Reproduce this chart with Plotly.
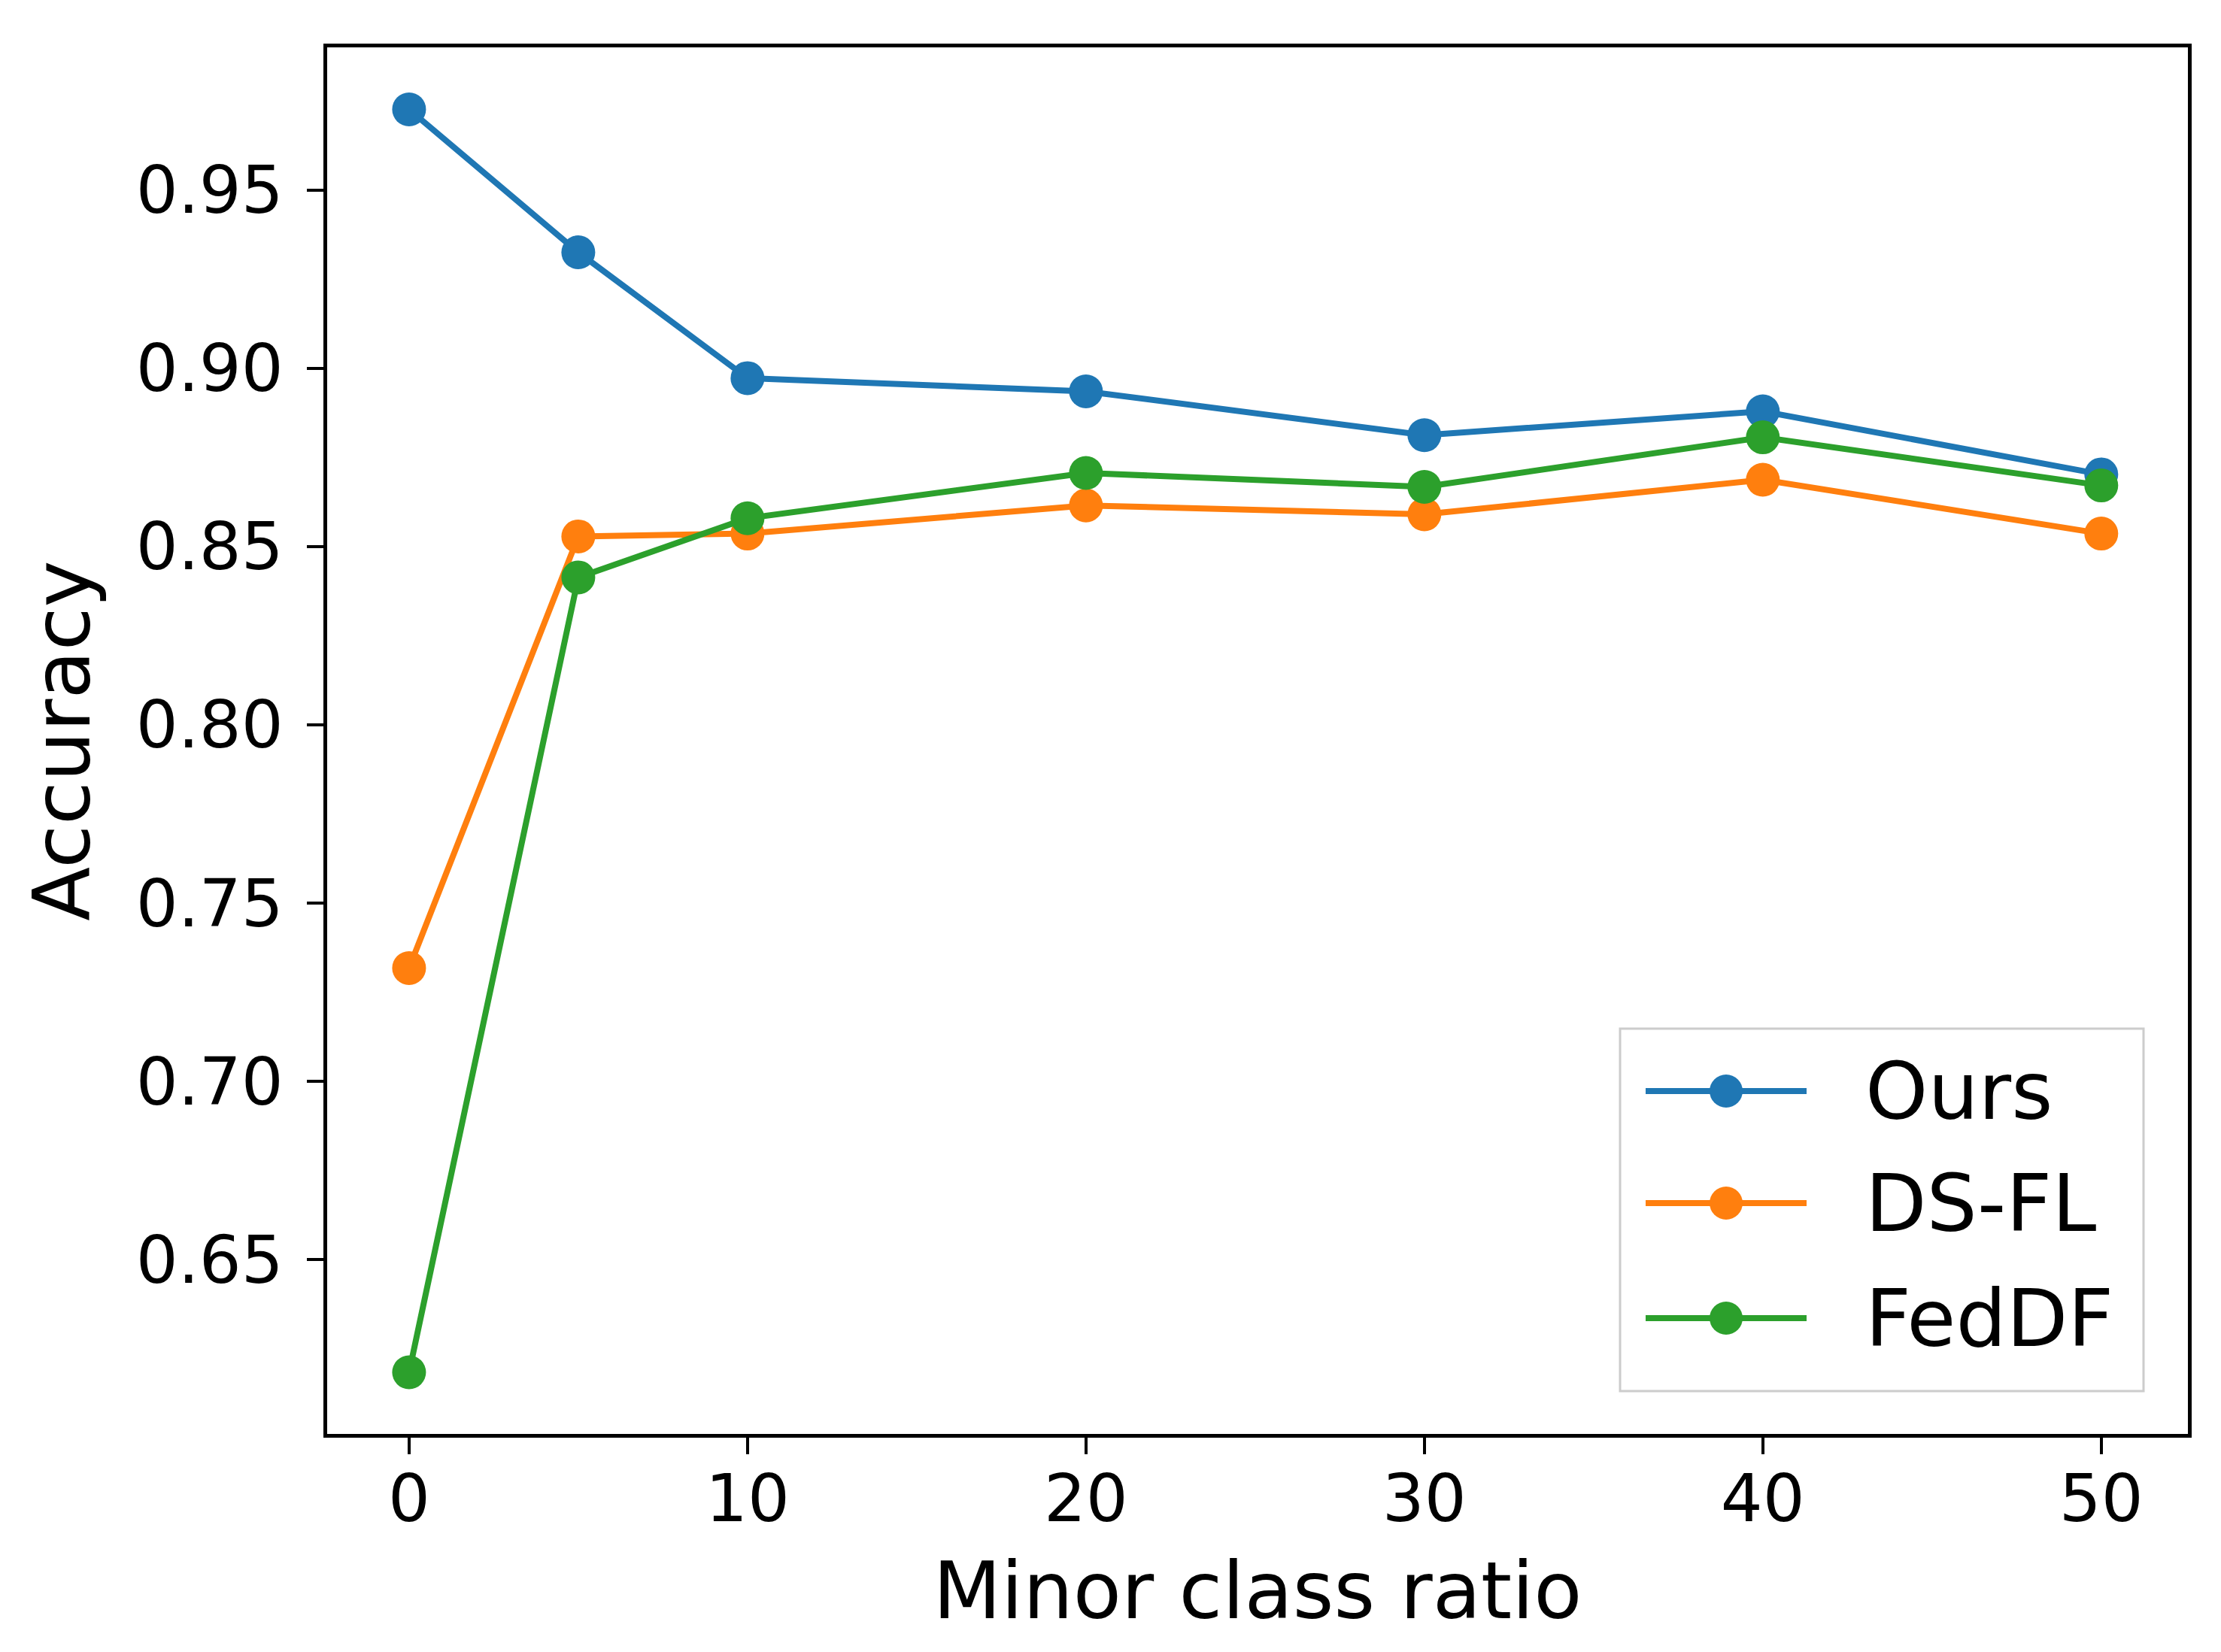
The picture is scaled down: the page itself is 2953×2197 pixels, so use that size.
import plotly.graph_objects as go

# ---- data ----
minor_ratio = [0, 5, 10, 20, 30, 40, 50]
series_names = ["Ours", "DS-FL", "FedDF"]
acc_ours = [0.9726, 0.9325, 0.8972, 0.8935, 0.8812, 0.8879, 0.8702]
acc_dsfl = [0.7317, 0.8528, 0.8536, 0.8615, 0.859, 0.8687, 0.8536]
acc_feddf = [0.6183, 0.8413, 0.8579, 0.8706, 0.8667, 0.8806, 0.8671]
x_ticks = [0, 10, 20, 30, 40, 50]
y_ticks = [0.65, 0.70, 0.75, 0.80, 0.85, 0.90, 0.95]
y_tick_labels = ["0.65", "0.70", "0.75", "0.80", "0.85", "0.90", "0.95"]

colors = ["#1f77b4", "#ff7f0e", "#2ca02c"]
series_values = [acc_ours, acc_dsfl, acc_feddf]

W, H = 2953, 2197
ML, MR, MT, MB = 427, 52, 55, 298
FONT = "DejaVu Sans"

fig = go.Figure()
for name, vals, col in zip(series_names, series_values, colors):
    fig.add_trace(go.Scatter(
        x=minor_ratio, y=vals, name=name, mode="lines+markers",
        line=dict(color=col, width=8),
        marker=dict(color=col, size=45),
        showlegend=False,
    ))

axis_common = dict(
    showgrid=False, zeroline=False, showline=True, mirror=True,
    linecolor="black", linewidth=4.5,
    ticks="outside", ticklen=22, tickwidth=4, tickcolor="black",
    tickfont=dict(family=FONT, size=88, color="black"),
)

fig.update_layout(
    width=W, height=H,
    margin=dict(l=ML, r=MR, t=MT, b=MB),
    paper_bgcolor="white", plot_bgcolor="white",
    font=dict(family=FONT, color="black"),
    xaxis=dict(range=[-2.42, 52.56], tickvals=x_ticks,
               title=dict(text="Minor class ratio", font=dict(family=FONT, size=105), standoff=37),
               ticklabelstandoff=-16, **axis_common),
    yaxis=dict(range=[0.601, 0.990], tickvals=y_ticks, ticktext=y_tick_labels,
               title=dict(text="Accuracy", font=dict(family=FONT, size=105), standoff=27),
               ticklabelstandoff=14, **axis_common),
)

# ---- legend (custom, matplotlib-style) ----
pw = W - ML - MR
ph = H - MT - MB
def px_to_paper_x(px):
    return (px - ML) / pw
def px_to_paper_y(py):
    return (H - MB - py) / ph

box_x0, box_x1 = px_to_paper_x(2146), px_to_paper_x(2842)
box_y0, box_y1 = px_to_paper_y(1842), px_to_paper_y(1360)
fig.add_shape(type="rect", xref="paper", yref="paper",
              x0=box_x0, x1=box_x1, y0=box_y0, y1=box_y1,
              line=dict(color="#cccccc", width=3), fillcolor="rgba(255,255,255,0.8)")
entry_py = [1443, 1592, 1745]
lx0, lx1, lxm = px_to_paper_x(2180), px_to_paper_x(2394), px_to_paper_x(2287)
tx = px_to_paper_x(2470)
for name, col, py in zip(series_names, colors, entry_py):
    yy = px_to_paper_y(py)
    fig.add_shape(type="line", xref="paper", yref="paper",
                  x0=lx0, x1=lx1, y0=yy, y1=yy, line=dict(color=col, width=8))
    fig.add_shape(type="circle", xref="paper", yref="paper",
                  xsizemode="pixel", ysizemode="pixel",
                  xanchor=lxm, yanchor=yy, x0=-22, x1=22, y0=-22, y1=22,
                  line=dict(color=col, width=0), fillcolor=col)
    fig.add_annotation(xref="paper", yref="paper", x=tx, y=yy, text=name,
                       showarrow=False, xanchor="left", yanchor="middle",
                       font=dict(family=FONT, size=106, color="black"))

fig.write_html("out.html")
